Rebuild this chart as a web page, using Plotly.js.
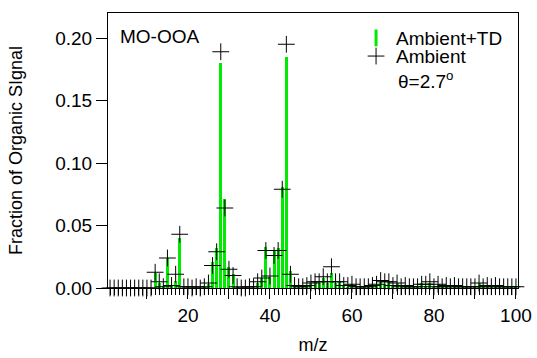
<!DOCTYPE html>
<html>
<head>
<meta charset="utf-8">
<script src="https://cdn.plot.ly/plotly-3.0.1.min.js"></script>
<style>html,body{margin:0;padding:0;background:#fff;}#chart{width:537px;height:358px;}</style>
</head>
<body>
<div id="chart"></div>
<script>
// m/z values 1..100
const mz = [1,2,3,4,5,6,7,8,9,10,11,12,13,14,15,16,17,18,19,20,
  21,22,23,24,25,26,27,28,29,30,31,32,33,34,35,36,37,38,39,40,
  41,42,43,44,45,46,47,48,49,50,51,52,53,54,55,56,57,58,59,60,
  61,62,63,64,65,66,67,68,69,70,71,72,73,74,75,76,77,78,79,80,
  81,82,83,84,85,86,87,88,89,90,91,92,93,94,95,96,97,98,99,100];

// Ambient+TD (green bars)
const ambientTD = [0,0,0,0,0,0,0,0,0,0,0,0.012,0.004,0.002,0.024,0.002,0.006,0.040,0.001,0.001,
  0,0,0,0.001,0.003,0.021,0.032,0.180,0.071,0.017,0.011,0.001,0,0,0,0.001,0.004,0.008,0.033,0.009,
  0.030,0.032,0.081,0.185,0.014,0.002,0.001,0.001,0.001,0.004,0.005,0.004,0.008,0.004,0.012,0.004,0.005,0.002,0.001,0.003,
  0.001,0.001,0.001,0.001,0.002,0.002,0.005,0.003,0.005,0.002,0.004,0.001,0.002,0.001,0.001,0.001,0.004,0.002,0.004,0.001,
  0.003,0.001,0.002,0.001,0.002,0.001,0.001,0.001,0.001,0.001,0.004,0.001,0.002,0.001,0.002,0.001,0.001,0.001,0.001,0.001];

// Ambient (black crosses)
const ambient = [0,0,0,0,0,0,0,0,0,0,0,0.0126,0.005,0.001,0.024,0.002,0.011,0.043,0.001,0.001,
  0,0.001,0,0.001,0.004,0.018,0.029,0.189,0.064,0.015,0.010,0.001,0,0,0.001,0.001,0.005,0.008,0.030,0.0096,
  0.026,0.030,0.079,0.195,0.011,0.002,0.001,0.001,0.002,0.004,0.005,0.005,0.009,0.005,0.017,0.005,0.005,0.002,0.002,0.003,
  0.001,0.001,0.001,0.001,0.002,0.003,0.006,0.005,0.005,0.002,0.004,0.001,0.002,0.001,0.001,0.001,0.003,0.003,0.005,0.001,
  0.003,0.001,0.002,0.001,0.002,0.001,0.001,0.001,0.001,0.001,0.004,0.001,0.002,0.001,0.002,0.001,0.001,0.001,0.001,0.001];

const xTickVals = [10,20,30,40,50,60,70,80,90,100];
const xTickText = ['','20','','40','','60','','80','','100'];
const yTickVals = [0,0.05,0.10,0.15,0.20];

const green = 'rgb(0,235,0)';
const font = 'Liberation Sans, Arial, sans-serif';
const fs = 19;

const traces = [
  {type:'bar', x: mz, y: ambientTD, name:'Ambient+TD', width:0.75,
   marker:{color:green, line:{width:0}}, showlegend:false, legendgroup:'td', cliponaxis:false},
  {type:'scatter', mode:'markers', x:[null], y:[null], name:'Ambient+TD', legendgroup:'td', legend:'legend',
   marker:{symbol:'line-ns', size:12, line:{width:3, color:green}}},
  {type:'scatter', mode:'markers', x: mz, y: ambient, name:'Ambient', cliponaxis:false, legend:'legend2',
   marker:{symbol:'cross-thin', size:12, line:{width:1, color:'#000'}}}
];

const legendBase = {xanchor:'left', yanchor:'top', bgcolor:'rgba(0,0,0,0)',
  font:{family:font, size:fs}, tracegroupgap:0, itemwidth:30};

const layout = {
  width:537, height:358,
  margin:{l:108, r:19, t:13, b:70},
  paper_bgcolor:'#fff', plot_bgcolor:'#fff',
  font:{family:font, size:fs, color:'#000'},
  bargap:0,
  showlegend:true,
  legend:Object.assign({x:0.605, y:0.978}, legendBase),
  legend2:Object.assign({x:0.605, y:0.912}, legendBase),
  xaxis:{range:[0.5,100.5], showgrid:false, zeroline:false, showline:true, mirror:true,
    linecolor:'#000', linewidth:1, ticks:'outside', ticklen:10, tickwidth:1, tickcolor:'#000',
    tickmode:'array', tickvals:xTickVals, ticktext:xTickText,
    tickfont:{family:font, size:fs},
    minor:{dtick:1, tick0:0, ticks:'outside', ticklen:6, tickwidth:1, tickcolor:'#000', showgrid:false},
    title:{text:'m/z', font:{family:font, size:18}, standoff:13}},
  yaxis:{range:[0,0.22], showgrid:false, zeroline:false, showline:true, mirror:true,
    linecolor:'#000', linewidth:1, ticks:'outside', ticklen:11, tickwidth:1, tickcolor:'#000',
    tickmode:'array', tickvals:yTickVals, tickformat:'.2f',
    tickfont:{family:font, size:fs},
    title:{text:'Fraction of Organic SIgnal', font:{family:font, size:18}, standoff:27}},
  annotations:[
    {xref:'paper', yref:'paper', x:0.024, y:0.914, xanchor:'left', yanchor:'middle',
     text:'MO-OOA', showarrow:false, font:{family:font, size:fs}},
    {xref:'paper', yref:'paper', x:0.703, y:0.757, xanchor:'left', yanchor:'middle',
     text:'θ=2.7<sup>o</sup>', showarrow:false, font:{family:font, size:fs}}
  ]
};

Plotly.newPlot('chart', traces, layout, {displayModeBar:false, staticPlot:true});
</script>
</body>
</html>
